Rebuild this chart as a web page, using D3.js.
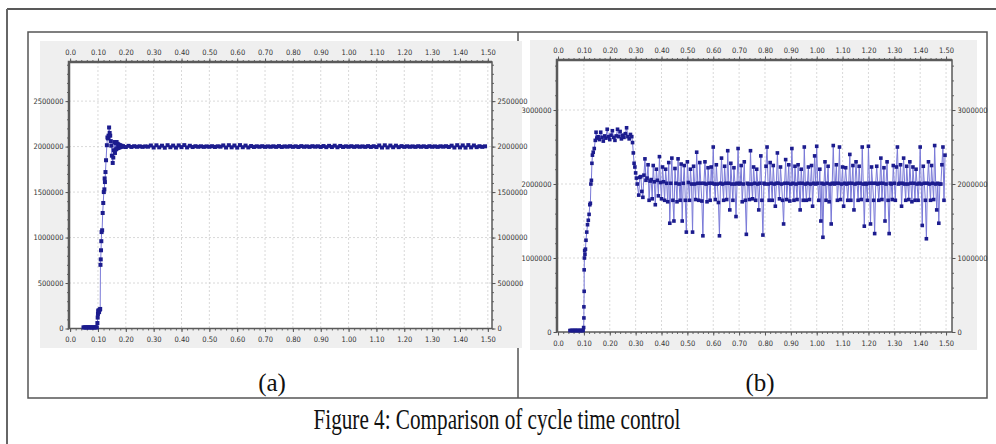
<!DOCTYPE html>
<html>
<head>
<meta charset="utf-8">
<script src="https://cdn.jsdelivr.net/npm/d3@7"></script>
<style>
body { margin: 0; background: #fff; }
</style>
</head>
<body>
<div id="chart"></div>
<script>
var w = 996;
var h = 444;

// tick labels
var xTicks = [0, 0.1, 0.2, 0.3, 0.4, 0.5, 0.6, 0.7, 0.8, 0.9, 1.0, 1.1, 1.2, 1.3, 1.4, 1.5];
var yTicksA = [0, 500000, 1000000, 1500000, 2000000, 2500000];
var yTicksB = [0, 1000000, 2000000, 3000000];

// (a) cycle time, [time s, value]
var cycleA = [
  [0.048,12000],[0.052,13000],[0.056,12000],[0.060,12000],[0.064,14000],[0.068,12000],[0.072,13000],[0.076,12000],
  [0.080,12000],[0.084,13000],[0.088,12000],[0.092,14000],[0.096,12000],
  [0.098,60000],[0.099,120000],[0.100,160000],[0.101,190000],[0.102,200000],[0.104,180000],[0.106,205000],[0.108,215000],
  [0.109,700000],[0.110,760000],[0.111,860000],[0.112,960000],[0.113,1060000],[0.115,1080000],[0.117,1270000],
  [0.119,1380000],[0.121,1500000],[0.123,1530000],[0.124,1650000],[0.125,1610000],[0.127,1720000],[0.129,1850000],
  [0.132,2015000],[0.134,2100000],[0.136,2090000],[0.138,2120000],[0.140,2210000],[0.142,2150000],[0.144,2120000],
  [0.146,2060000],[0.148,2010000],[0.150,1900000],[0.153,1820000],[0.155,1880000],[0.157,1960000],[0.159,2050000],
  [0.161,1930000],[0.163,2040000],[0.165,1970000],[0.167,2050000],[0.169,1980000],[0.171,2030000],[0.173,1985000],
  [0.175,2020000],[0.177,1990000],[0.179,2015000],[0.181,1995000],[0.184,2010000],[0.187,1998000],
  [0.19,2005000],[0.20,1995000],[0.21,2008000],[0.22,1996000],[0.23,2004000],[0.24,1998000],[0.25,2003000],[0.26,1997000],
  [0.27,2002000],[0.28,1999000],[0.29,2012000],[0.30,1990000],[0.31,2014000],[0.32,1992000],[0.33,2010000],[0.34,1988000],
  [0.35,2015000],[0.36,1993000],[0.37,2011000],[0.38,1989000],[0.39,2013000],[0.40,1994000],[0.41,2016000],[0.42,1991000],
  [0.43,2009000],[0.44,1995000],[0.45,2004000],[0.46,1998000],[0.47,2003000],[0.48,1997000],[0.49,2002000],[0.50,1998000],
  [0.51,2004000],[0.52,1996000],[0.53,2003000],[0.54,1999000],[0.55,2013000],[0.56,1990000],[0.57,2015000],[0.58,1992000],
  [0.59,2012000],[0.60,1989000],[0.61,2016000],[0.62,1993000],[0.63,2011000],[0.64,1991000],[0.65,2006000],[0.66,1996000],
  [0.67,2003000],[0.68,1998000],[0.69,2004000],[0.70,1997000],[0.71,2002000],[0.72,1998000],[0.73,2003000],[0.74,1997000],
  [0.75,2005000],[0.76,1996000],[0.77,2002000],[0.78,1999000],[0.79,2004000],[0.80,1997000],[0.81,2003000],[0.82,1996000],
  [0.83,2005000],[0.84,1998000],[0.85,2002000],[0.86,1997000],[0.87,2004000],[0.88,1999000],[0.89,2003000],[0.90,1996000],
  [0.91,2006000],[0.92,1994000],[0.93,2008000],[0.94,1995000],[0.95,2010000],[0.96,1993000],[0.97,2007000],[0.98,1996000],
  [0.99,2003000],[1.00,1998000],[1.01,2004000],[1.02,1997000],[1.03,2003000],[1.04,1998000],[1.05,2002000],[1.06,1997000],
  [1.07,2005000],[1.08,1996000],[1.09,2004000],[1.10,1995000],[1.11,2012000],[1.12,1990000],[1.13,2014000],[1.14,1991000],
  [1.15,2011000],[1.16,1993000],[1.17,2010000],[1.18,1994000],[1.19,2005000],[1.20,1997000],[1.21,2003000],[1.22,1998000],
  [1.23,2002000],[1.24,1997000],[1.25,2004000],[1.26,1998000],[1.27,2003000],[1.28,1996000],[1.29,2004000],[1.30,1998000],
  [1.31,2002000],[1.32,1997000],[1.33,2003000],[1.34,1999000],[1.35,2004000],[1.36,1996000],[1.37,2010000],[1.38,1990000],
  [1.39,2015000],[1.40,1991000],[1.41,2013000],[1.42,1989000],[1.43,2016000],[1.44,1992000],[1.45,2012000],[1.46,1994000],
  [1.47,2004000],[1.48,1997000],[1.49,2003000]
];

// (b) cycle time, [time s, value]
var cycleB = [
  [0.046,20000],[0.050,20000],[0.054,21000],[0.058,20000],[0.062,20000],[0.066,22000],[0.070,20000],[0.074,20000],
  [0.078,21000],[0.082,20000],[0.086,20000],[0.090,21000],[0.094,20000],[0.097,20000],
  [0.099,60000],[0.100,190000],[0.100,340000],[0.101,550000],[0.101,840000],[0.102,1000000],[0.103,1100000],
  [0.104,1050000],[0.106,1120000],[0.108,1240000],[0.111,1350000],[0.114,1450000],[0.117,1510000],[0.120,1590000],
  [0.123,1720000],[0.125,1740000],[0.127,2000000],[0.129,2050000],[0.131,2280000],[0.133,2390000],[0.136,2430000],
  [0.140,2480000],[0.144,2590000],[0.147,2700000],
  [0.150,2620000],[0.155,2640000],[0.160,2600000],[0.165,2700000],[0.170,2630000],[0.175,2580000],[0.180,2650000],
  [0.185,2620000],[0.190,2740000],[0.195,2640000],[0.200,2600000],[0.205,2660000],[0.210,2720000],[0.215,2630000],
  [0.220,2590000],[0.225,2650000],[0.230,2740000],[0.235,2640000],[0.240,2710000],[0.245,2610000],[0.250,2660000],
  [0.255,2630000],[0.260,2680000],[0.265,2760000],[0.270,2640000],[0.275,2610000],[0.280,2670000],[0.285,2640000],
  [0.288,2560000],[0.291,2420000],[0.294,2280000],[0.297,2230000],[0.300,2150000],[0.303,2080000],[0.306,2000000],
  [0.312,1850000],[0.316,2090000],[0.320,2100000],[0.324,1900000],[0.328,1820000],[0.332,2120000],[0.336,2340000],
  [0.340,2050000],[0.344,2080000],[0.348,2260000],[0.352,1780000],[0.356,2040000],[0.360,2060000],[0.364,1800000],
  [0.368,2250000],[0.372,2030000],[0.376,1720000],[0.380,2200000],[0.384,2050000],[0.388,1840000],[0.392,2370000],
  [0.396,2020000],[0.400,1800000],[0.404,2230000],[0.408,2030000],[0.412,1780000],[0.416,2200000],[0.420,2010000],
  [0.424,1760000],[0.428,2290000],[0.432,1470000],[0.436,2010000],[0.440,2350000],[0.444,1780000],[0.448,1500000],
  [0.452,2210000],[0.456,2010000],[0.460,1760000],[0.464,2340000],[0.468,2000000],[0.472,1780000],[0.476,2270000],
  [0.480,1500000],[0.484,2010000],[0.488,2250000],[0.492,1780000],[0.496,1350000],[0.500,2300000],[0.504,2020000],
  [0.508,1780000],[0.512,2200000],[0.516,2000000],[0.520,1350000],[0.524,2240000],[0.528,2000000],[0.532,1790000],
  [0.536,2430000],[0.540,2010000],[0.544,1780000],[0.548,2290000],[0.552,2010000],[0.556,1770000],[0.560,1300000],
  [0.564,2010000],[0.568,2300000],[0.572,2000000],[0.576,1760000],[0.580,2220000],[0.584,2010000],[0.588,1780000],
  [0.592,2230000],[0.596,2010000],[0.600,2500000],[0.604,2000000],[0.608,1790000],[0.612,2260000],[0.616,2000000],
  [0.620,1750000],[0.624,1300000],[0.628,2010000],[0.632,2350000],[0.636,2000000],[0.640,1780000],[0.644,2240000],
  [0.648,2010000],[0.652,1790000],[0.656,2450000],[0.660,2010000],[0.664,1650000],[0.668,2280000],[0.672,2000000],
  [0.676,1780000],[0.680,2220000],[0.684,2000000],[0.688,1560000],[0.692,2010000],[0.696,2480000],[0.700,2000000],
  [0.704,2010000],[0.708,2250000],[0.712,1760000],[0.716,2000000],[0.720,2300000],[0.724,1780000],[0.728,1320000],
  [0.732,2010000],[0.736,2000000],[0.740,1790000],[0.744,2450000],[0.748,2000000],[0.752,1800000],[0.756,2230000],
  [0.760,2010000],[0.764,1780000],[0.768,2200000],[0.772,2000000],[0.776,1650000],[0.780,2010000],[0.784,2380000],
  [0.788,1780000],[0.792,1310000],[0.796,2010000],[0.800,2000000],[0.804,2240000],[0.808,2500000],[0.812,2000000],
  [0.816,1780000],[0.820,2290000],[0.824,2010000],[0.828,1780000],[0.832,2250000],[0.836,2000000],[0.840,1700000],
  [0.844,2010000],[0.848,2420000],[0.852,2010000],[0.856,1800000],[0.860,2230000],[0.864,2000000],[0.868,1780000],
  [0.872,1460000],[0.876,2010000],[0.880,2330000],[0.884,1790000],[0.888,2010000],[0.892,2260000],[0.896,1770000],
  [0.900,2000000],[0.904,2480000],[0.908,2010000],[0.912,1780000],[0.916,2240000],[0.920,2000000],[0.924,1790000],
  [0.928,2260000],[0.932,2010000],[0.936,1650000],[0.940,2200000],[0.944,2010000],[0.948,1780000],[0.952,2500000],
  [0.956,2000000],[0.960,1780000],[0.964,2010000],[0.968,2230000],[0.972,1790000],[0.976,2000000],[0.980,2250000],
  [0.984,1700000],[0.988,2010000],[0.992,2380000],[0.996,2000000],[1.000,2510000],[1.004,2010000],[1.008,1780000],
  [1.012,2200000],[1.016,1500000],[1.020,2010000],[1.024,1280000],[1.028,2000000],[1.032,2300000],[1.036,1780000],
  [1.040,2010000],[1.044,2240000],[1.048,1760000],[1.052,2000000],[1.056,1460000],[1.060,2010000],[1.064,2520000],
  [1.068,2000000],[1.072,2010000],[1.076,2260000],[1.080,1780000],[1.084,2010000],[1.088,2500000],[1.092,1790000],
  [1.096,2000000],[1.100,2230000],[1.104,1700000],[1.108,2010000],[1.112,2220000],[1.116,2000000],[1.120,1780000],
  [1.124,2010000],[1.128,2400000],[1.132,1780000],[1.136,2010000],[1.140,2250000],[1.144,1650000],[1.148,2000000],
  [1.152,2300000],[1.156,2010000],[1.160,1780000],[1.164,2240000],[1.168,2010000],[1.172,1790000],[1.176,2500000],
  [1.180,2000000],[1.184,1430000],[1.188,2010000],[1.192,2000000],[1.196,1780000],[1.200,2510000],[1.204,2010000],
  [1.208,1460000],[1.212,2230000],[1.216,2010000],[1.220,1780000],[1.224,1330000],[1.228,2010000],[1.232,2240000],
  [1.236,2000000],[1.240,1780000],[1.244,2010000],[1.248,2350000],[1.252,1790000],[1.256,2010000],[1.260,2220000],
  [1.264,1500000],[1.268,2000000],[1.272,2300000],[1.276,1780000],[1.280,1330000],[1.284,2010000],[1.288,2000000],
  [1.292,1790000],[1.296,2250000],[1.300,2010000],[1.304,1780000],[1.308,2230000],[1.312,2500000],[1.316,2000000],
  [1.320,2010000],[1.324,2260000],[1.328,1700000],[1.332,2010000],[1.336,2350000],[1.340,2000000],[1.344,1780000],
  [1.348,2240000],[1.352,2000000],[1.356,1790000],[1.360,2300000],[1.364,2010000],[1.368,1760000],[1.372,2230000],
  [1.376,2010000],[1.380,1780000],[1.384,2200000],[1.388,2000000],[1.392,1780000],[1.396,2010000],[1.400,2500000],
  [1.404,2000000],[1.408,1440000],[1.412,2240000],[1.416,2010000],[1.420,1780000],[1.424,1260000],[1.428,2010000],
  [1.432,2300000],[1.436,2000000],[1.440,1780000],[1.444,2250000],[1.448,2010000],[1.452,1790000],[1.456,2520000],
  [1.460,2000000],[1.464,1650000],[1.468,2010000],[1.472,1470000],[1.476,2000000],[1.480,2000000],[1.484,2260000],
  [1.488,2500000],[1.492,1780000],[1.496,2390000]
];

var tickFont = '"Liberation Sans Narrow", "Arial Narrow", "DejaVu Sans Condensed", sans-serif';
var serifFont = '"Liberation Serif", "Times New Roman", serif';

var svg = d3.select("#chart")
            .append("svg")
            .attr("width", w)
            .attr("height", h);

// page edges and figure box
svg.append("line")
   .attr("x1", 7).attr("y1", 9).attr("x2", w).attr("y2", 9)
   .attr("stroke", "#222").attr("stroke-width", 1.5);
svg.append("line")
   .attr("x1", 7).attr("y1", 9).attr("x2", 7).attr("y2", h)
   .attr("stroke", "#666").attr("stroke-width", 2);
svg.append("rect")
   .attr("x", 28).attr("y", 32).attr("width", 959).attr("height", 366)
   .attr("fill", "none").attr("stroke", "#555").attr("stroke-width", 1.5);
svg.append("line")
   .attr("x1", 518).attr("y1", 32).attr("x2", 518).attr("y2", 398)
   .attr("stroke", "#555").attr("stroke-width", 1.5);

function drawPanel(p) {
  var x = d3.scaleLinear().domain(p.xDomain).range([p.left, p.right]);
  var y = d3.scaleLinear().domain(p.yDomain).range([p.bottom, p.top]);

  svg.append("rect")
     .attr("x", p.bg[0]).attr("y", p.bg[1])
     .attr("width", p.bg[2] - p.bg[0]).attr("height", p.bg[3] - p.bg[1])
     .attr("fill", "#efefef");
  svg.append("rect")
     .attr("x", p.left).attr("y", p.top)
     .attr("width", p.right - p.left).attr("height", p.bottom - p.top)
     .attr("fill", "#fff");

  var grid = svg.append("g")
                .attr("stroke", "#cfcfcf")
                .attr("stroke-width", 0.8)
                .attr("stroke-dasharray", "2,2");
  grid.selectAll(".gx")
      .data(xTicks.filter(function(d) { return d > 0; }))
      .enter()
      .append("line")
      .attr("x1", function(d) { return x(d); })
      .attr("x2", function(d) { return x(d); })
      .attr("y1", p.top)
      .attr("y2", p.bottom);
  grid.selectAll(".gy")
      .data(p.yTicks.filter(function(d) { return d > 0; }))
      .enter()
      .append("line")
      .attr("y1", function(d) { return y(d); })
      .attr("y2", function(d) { return y(d); })
      .attr("x1", p.left)
      .attr("x2", p.right);

  var fmtX = function(d) { return d === 0 ? "0.0" : d3.format(".2f")(d); };
  var fmtY = d3.format("d");
  var xMinor = d3.range(0, 1.5001, 0.02);
  var yMinor = d3.range(0, p.yDomain[1], p.yMinorStep);

  var axes = [
    [d3.axisTop(x), "translate(0," + p.top + ")", xMinor, xTicks, fmtX, 4],
    [d3.axisBottom(x), "translate(0," + p.bottom + ")", xMinor, xTicks, fmtX, 5],
    [d3.axisLeft(y), "translate(" + p.left + ",0)", yMinor, p.yTicks, fmtY, 2],
    [d3.axisRight(y), "translate(" + p.right + ",0)", yMinor, p.yTicks, fmtY, 2]
  ];
  axes.forEach(function(a) {
    svg.append("g")
       .attr("transform", a[1])
       .call(a[0].tickValues(a[2]).tickSize(2).tickFormat(""))
       .call(function(g) { g.select(".domain").remove(); })
       .selectAll("line").attr("stroke", "#666");
    var g = svg.append("g")
       .attr("transform", a[1])
       .call(a[0].tickValues(a[3]).tickSize(3.5).tickPadding(a[5]).tickFormat(a[4]));
    g.select(".domain").remove();
    g.attr("font-family", tickFont).attr("font-size", 7.5);
    g.selectAll("line").attr("stroke", "#555");
    g.selectAll("text").attr("fill", "#333");
  });

  // plot frame
  svg.append("rect")
     .attr("x", p.left).attr("y", p.top)
     .attr("width", p.right - p.left).attr("height", p.bottom - p.top)
     .attr("fill", "none").attr("stroke", "#5a5a5a").attr("stroke-width", 1.5);
  svg.append("path")
     .attr("d", "M" + p.left + "," + p.bottom + "V" + p.top + "H" + p.right)
     .attr("fill", "none").attr("stroke", "#5a5a5a").attr("stroke-width", 2.5);

  var line = d3.line()
               .x(function(d) { return x(d[0]); })
               .y(function(d) { return y(d[1]); });
  svg.append("path")
     .datum(p.data)
     .attr("d", line)
     .attr("fill", "none")
     .attr("stroke", "#7a7ad8")
     .attr("stroke-width", 1);

  var s = p.marker;
  svg.selectAll(null)
     .data(p.data)
     .enter()
     .append("rect")
     .attr("x", function(d) { return x(d[0]) - s / 2; })
     .attr("y", function(d) { return y(d[1]) - s / 2; })
     .attr("width", s)
     .attr("height", s)
     .attr("fill", "#1c1c8e");

  svg.append("text")
     .attr("x", p.labelX).attr("y", 391)
     .attr("text-anchor", "middle")
     .attr("font-family", serifFont)
     .attr("font-size", 25)
     .attr("fill", "#111")
     .text(p.label);
}

drawPanel({
  bg: [40, 41, 522, 348],
  left: 69, right: 492, top: 62, bottom: 328.5,
  xDomain: [-0.004, 1.515],
  yDomain: [0, 2930000],
  yTicks: yTicksA,
  yMinorStep: 100000,
  data: cycleA,
  marker: 4,
  label: "(a)",
  labelX: 272
});

drawPanel({
  bg: [530, 40, 977, 350],
  left: 557, right: 952, top: 60, bottom: 332,
  xDomain: [-0.004, 1.523],
  yDomain: [0, 3676000],
  yTicks: yTicksB,
  yMinorStep: 200000,
  data: cycleB,
  marker: 3.6,
  label: "(b)",
  labelX: 760
});

svg.append("text")
   .attr("x", 497).attr("y", 429)
   .attr("text-anchor", "middle")
   .attr("font-family", serifFont)
   .attr("font-size", 30)
   .attr("textLength", 367)
   .attr("lengthAdjust", "spacingAndGlyphs")
   .attr("fill", "#111")
   .text("Figure 4: Comparison of cycle time control");
</script>
</body>
</html>
